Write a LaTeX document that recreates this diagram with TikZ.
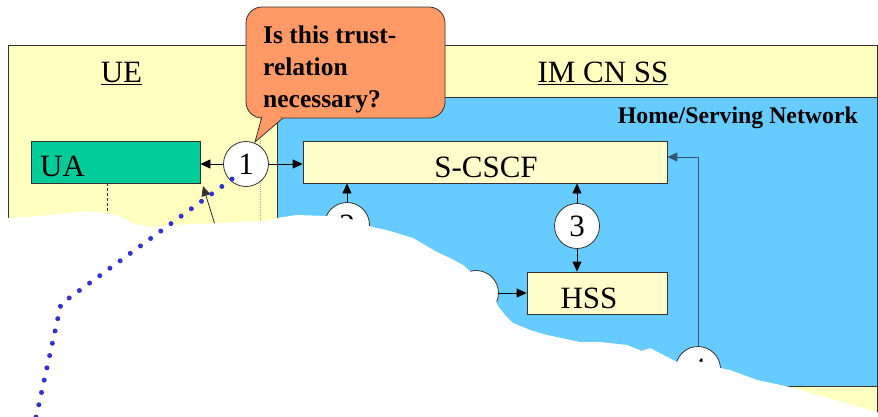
\documentclass[tikz,border=0pt]{standalone}
\usepackage{fontspec}
\setmainfont{Liberation Serif}
\usetikzlibrary{arrows.meta}
\definecolor{ylw}{HTML}{FFFFC0}
\definecolor{boxy}{HTML}{FFFFCC}
\definecolor{uag}{HTML}{00CC99}
\definecolor{blu}{HTML}{66CCFF}
\definecolor{org}{HTML}{FF9966}
\definecolor{dotc}{HTML}{3333CC}
\definecolor{edgec}{HTML}{333333}
\definecolor{slate}{HTML}{335577}
\begin{document}
\begin{tikzpicture}[x=1pt,y=-1pt,
  frame/.style={draw=edgec, line width=0.8pt},
  fbox/.style={draw=edgec, line width=0.8pt, fill=boxy, inner sep=0pt},
  numc/.style={circle, draw=edgec, fill=white, line width=0.8pt, minimum size=45pt, inner sep=0pt, font=\fontsize{31}{31}\selectfont},
  con/.style={draw=black, line width=0.8pt},
  tip/.style={-{Triangle[length=10pt,width=9pt]}},
  big/.style={font=\fontsize{31}{31}\selectfont, inner sep=0pt, anchor=base},
]
\useasboundingbox (0,0) rectangle (878,416);
\begin{scope}
\clip (0,0) rectangle (878,416);
\fill[white] (0,0) rectangle (878,416);
% outer yellow frame (UE + IM CN SS)
\path[frame, fill=ylw] (8,45) rectangle (877,414);
\draw[gray!70, line width=0.6pt, dash pattern=on 1pt off 1pt] (260,45) -- (260,232);
% home network
\path[frame, fill=blu] (277,97) rectangle (877,386);
\node[big] (uet) at (121.5,82) {\underline{UE}};
\node[big] (imt) at (603,82) {\underline{IM CN SS}};
\node[font=\bfseries\fontsize{23.8}{24}\selectfont, anchor=base east, inner sep=0pt] (hsn) at (858,123) {Home/Serving Network};
% boxes
\node[fbox, fill=uag, minimum width=169pt, minimum height=42pt] (ua) at (115.5,162) {};
\node[big, anchor=base west] (uat) at (40,176) {UA};
\node[fbox, minimum width=364pt, minimum height=42pt] (scscf) at (485,162) {};
\node[big] (scscft) at (486,177) {S-CSCF};
\node[fbox, minimum width=140pt, minimum height=42pt] (hss) at (597,293) {};
\node[big] (hsst) at (589,308) {HSS};
% UA side lines
\coordinate (dl0) at (107,183);
\coordinate (dl1) at (107,240);
\draw[edgec, line width=0.8pt, dash pattern=on 3pt off 2pt] (dl0) -- (dl1);
\coordinate (sl0) at (216,228);
\coordinate (sl1) at (203,186);
\draw[edgec, line width=0.8pt, tip] (sl0) -- (sl1);
% circles
\node[numc] (c1) at (246,164) {1};
\node[numc] (c2) at (347,225) {2};
\node[numc] (c3) at (577,226) {3};
\node[numc] (c5) at (476,293) {};
\node[numc] (c4) at (698,369) {4};
% connectors
\draw[con, tip] (c1.west) -- (c1.west -| ua.east);
\draw[con, tip] (c1.east) -- (c1.east -| scscf.west);
\draw[con, tip] (c2.north) -- (c2.north |- scscf.south);
\draw[con, tip] (c3.north) -- (c3.north |- scscf.south);
\draw[con, tip] (c3.south) -- (c3.south |- hss.north);
\draw[con, tip] (c5.east) -- (c5.east -| hss.west);
\coordinate (k4) at (698,157);
\draw[con, draw=slate, line width=1pt, tip] (c4.north) -- (k4) -- (k4 -| scscf.east);
% callout
\draw[draw=edgec, fill=org, line width=0.8pt, rounded corners=16pt] (246,7) rectangle (445,118);
\draw[draw=edgec, fill=org, line width=0.8pt, line join=miter] (262,116.5) -- (255,142) -- (283,118);
\fill[org] (263.2,115.5) -- (256.6,139) -- (281,116.2) -- (281,115.5) -- cycle;
\node[font=\bfseries\fontsize{25.5}{32}\selectfont, anchor=base west, inner sep=0pt] (q1) at (263,43) {Is this trust-};
\node[font=\bfseries\fontsize{25.5}{32}\selectfont, anchor=base west, inner sep=0pt] (q2) at (263,75) {relation};
\node[font=\bfseries\fontsize{25.5}{32}\selectfont, anchor=base west, inner sep=0pt] (q3) at (263,107) {necessary?};
% torn-away part
\fill[white] (-5,219) -- (8,218) -- (40,216) -- (87,211) -- (105,213) -- (117,215) -- (125,219)
  -- (135,224) -- (150,227) -- (173,225) -- (217,223) -- (267,221) -- (277,218) -- (297,215)
  -- (326,216) -- (336,218) -- (347,218.5) -- (360,221) -- (369,226) -- (390,231) -- (413,238)
  -- (430,248) -- (437,252) -- (450,258) -- (463,265) -- (470,271) -- (478,286) -- (496,301)
  -- (498,306) -- (505,315) -- (513,323) -- (530,330) -- (547,335) -- (580,342) -- (600,342)
  -- (627,345) -- (642,351) -- (650,348) -- (677,362) -- (690,361.5) -- (698,361) -- (710,364)
  -- (720,368) -- (730,370) -- (757,380) -- (790,387) -- (870,410) -- (876,412)
  -- (880,413) -- (880,460) -- (-5,460) -- cycle;
% blue dotted line
\coordinate (d0) at (232,179);
\coordinate (d1) at (61,304);
\coordinate (d2) at (35,422);
\draw[dotc, line width=5pt, line cap=round, dash pattern=on 0pt off 12.6pt] (d0) -- (d1) -- (d2);
\end{scope}
\end{tikzpicture}
\end{document}
